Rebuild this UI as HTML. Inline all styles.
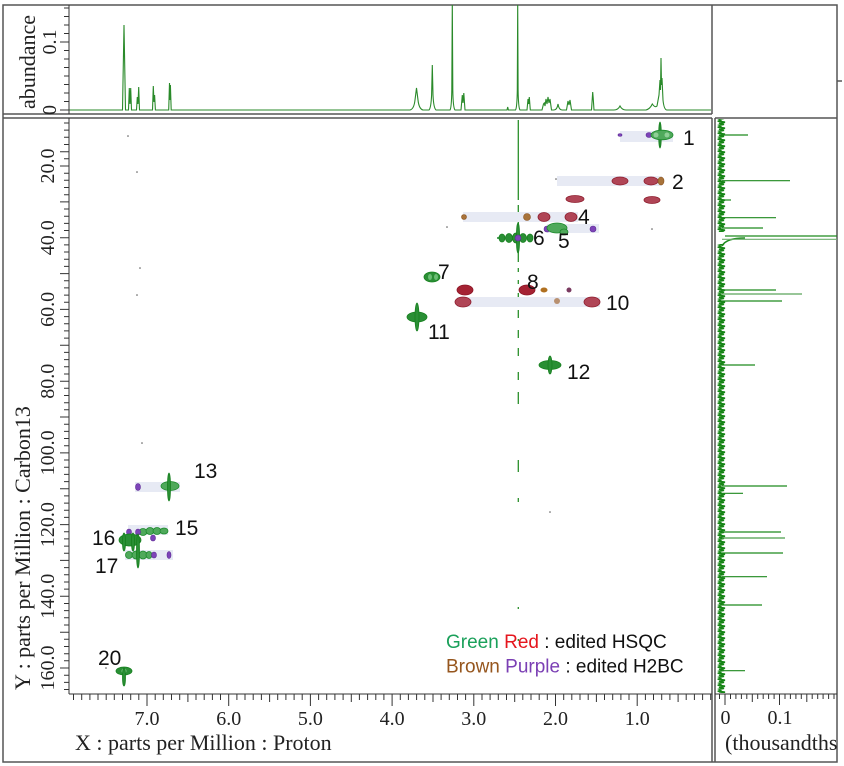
<!DOCTYPE html>
<html><head><meta charset="utf-8"><style>
html,body{margin:0;padding:0;background:#fff;}
svg{display:block;}
.ax{font-family:"Liberation Serif",serif;fill:#222;}
.lb{font-family:"Liberation Sans",sans-serif;fill:#111;font-size:21px;}
.g{fill:#4fa95b;stroke:#1d8a2c;stroke-width:0.8}
.gd{fill:#2a8f35;stroke:#17801f;stroke-width:0.8}
.r{fill:#b04556;stroke:#8e1e2e;stroke-width:0.8}
.rd{fill:#a52233;stroke:#8a1424;stroke-width:0.8}
.b{fill:#a8733a;stroke:#8a5320;stroke-width:0.6}
.p{fill:#7d44b8;stroke:#5e2a96;stroke-width:0.6}
.band{fill:#e7eaf4}
</style></head><body>
<svg width="844" height="766" viewBox="0 0 844 766" xmlns="http://www.w3.org/2000/svg">
<defs>
<pattern id="noise" x="717.5" y="0" width="9" height="6" patternUnits="userSpaceOnUse">
<polyline points="4,0 0.8,1.2 7.5,2.2 1.5,3.3 6.5,4.3 2,5.2 4,6" fill="none" stroke="#168516" stroke-width="1.6"/>
</pattern>
<clipPath id="rc"><rect x="715" y="118" width="122" height="644"/></clipPath>
<clipPath id="tc"><rect x="69" y="5" width="643" height="109"/></clipPath>
</defs>
<rect width="844" height="766" fill="#fff"/>

<!-- frames -->
<g stroke="#555" stroke-width="1.5" fill="none">
<rect x="3" y="5" width="834" height="757"/>
<line x1="3" y1="114" x2="712" y2="114"/>
<line x1="712" y1="5" x2="712" y2="114"/>
<line x1="3" y1="118" x2="712" y2="118"/>
<line x1="712" y1="118" x2="712" y2="762"/>
<line x1="715" y1="118" x2="715" y2="762"/>
<line x1="715" y1="118" x2="837" y2="118"/>
<line x1="837" y1="81" x2="842" y2="81"/>
</g>

<!-- top spectrum -->
<g clip-path="url(#tc)">
<path fill="none" stroke="#2a8a2a" stroke-width="1.1" d="M69,110 L122.5,110 L124,25 L125.5,110 L128.5,110 L129.3,88 L130,104 L130.7,88 L131.5,110 L136.5,110 L137.3,97 L138,104 L138.7,87 L139.5,110 L152.5,110 L153.3,86 L154,102 L154.6,95 L155.4,110 L168.7,110 L169.5,83 L170,100 L170.4,85 L171.2,110 L410,110 Q414,109 415,100 L416.5,88 L418,100 Q419,109 423,110 L429,110 Q431,108 431.6,95 L432.3,65 L433,95 Q433.6,108 436,110 L450,110 Q451.5,108 451.8,90 L452.3,2 L452.8,90 Q453.1,108 455,110 L461,110 L462.3,95 L463,103 L463.8,93 L465,110 L507,110 L507.7,107 L508.4,110 L515.5,110 Q517,108 517.3,90 L517.7,2 L518.1,90 Q518.4,108 520,110 L527,110 L528,99 L528.7,104 L529.3,97 L530.3,110 L542,110 L543.5,104 L544.3,103 L545,106 L546,99 L547,104 L548,97 L549,103 L550,99 L551.5,110 L554,110 Q557,110 558,104 Q559,110 562,110 L566.5,110 L568,101 L569,105 L570,100 L571.5,110 L591.5,110 L592.3,98 L592.7,92 L593.2,98 L594,110 L614,110 Q618,110 620,106 Q622,110 626,110 L646,110 Q650,109 652.3,104 Q655,108 657,106 L659,95 L660,80 L660.5,90 L661,58 L661.5,85 L662,78 L663,100 Q664,110 667,110 L711,110"/>
</g>
<!-- top y axis -->
<g stroke="#333" stroke-width="1">
<line x1="69" y1="5" x2="69" y2="114"/>
<line x1="60" y1="110" x2="69" y2="110"/>
<line x1="60" y1="42" x2="69" y2="42"/>
<line x1="64" y1="101.5" x2="69" y2="101.5"/><line x1="64" y1="93" x2="69" y2="93"/><line x1="64" y1="84.5" x2="69" y2="84.5"/><line x1="64" y1="76" x2="69" y2="76"/><line x1="64" y1="67.5" x2="69" y2="67.5"/><line x1="64" y1="59" x2="69" y2="59"/><line x1="64" y1="50.5" x2="69" y2="50.5"/><line x1="64" y1="33.5" x2="69" y2="33.5"/><line x1="64" y1="25" x2="69" y2="25"/><line x1="64" y1="16.5" x2="69" y2="16.5"/><line x1="64" y1="8" x2="69" y2="8"/>
</g>
<text class="ax" font-size="20" text-anchor="middle" transform="translate(56,110) rotate(-90)">0</text>
<text class="ax" font-size="20" text-anchor="middle" transform="translate(56,42) rotate(-90)">0.1</text>
<text class="ax" font-size="22" text-anchor="middle" transform="translate(35,62) rotate(-90)">abundance</text>

<!-- main axes -->
<g stroke="#333" stroke-width="1">
<line x1="69" y1="118" x2="69" y2="694"/>
<line x1="69" y1="694" x2="712" y2="694"/>
</g>

<!-- x tick labels -->
<g class="ax" font-size="20" text-anchor="middle">
<text x="147" y="725">7.0</text>
<text x="228.7" y="725">6.0</text>
<text x="310.4" y="725">5.0</text>
<text x="392.1" y="725">4.0</text>
<text x="473.8" y="725">3.0</text>
<text x="555.5" y="725">2.0</text>
<text x="637.2" y="725">1.0</text>
<text x="725.5" y="724">0</text>
<text x="780" y="724">0.1</text>
</g>
<text class="ax" font-size="22" x="75" y="750">X : parts per Million : Proton</text>
<text class="ax" font-size="22" x="725" y="750" clip-path="url(#rc)">(thousandths</text>

<!-- y tick labels -->
<g class="ax" font-size="20" text-anchor="middle">
<text transform="translate(54,166) rotate(-90)">20.0</text>
<text transform="translate(54,237.7) rotate(-90)">40.0</text>
<text transform="translate(54,309.4) rotate(-90)">60.0</text>
<text transform="translate(54,381.2) rotate(-90)">80.0</text>
<text transform="translate(54,452.9) rotate(-90)">100.0</text>
<text transform="translate(54,524.6) rotate(-90)">120.0</text>
<text transform="translate(54,596.3) rotate(-90)">140.0</text>
<text transform="translate(54,668) rotate(-90)">160.0</text>
</g>
<text class="ax" font-size="22" transform="translate(30,690) rotate(-90)">Y : parts per Million : Carbon13</text>

<!-- right panel trace -->
<g clip-path="url(#rc)">
<rect x="717.5" y="119" width="9" height="113" fill="url(#noise)"/>
<rect x="717.5" y="244" width="9" height="449" fill="url(#noise)"/>
<path d="M745,238 Q726,238 722,246" fill="none" stroke="#1d8a1d" stroke-width="1.6"/>
<g stroke="#1f8a1f" stroke-width="1.2">
<line x1="722" y1="135" x2="748" y2="135"/>
<line x1="722" y1="180.7" x2="790" y2="180.7"/>
<line x1="722" y1="200" x2="731" y2="200"/>
<line x1="722" y1="217.7" x2="776" y2="217.7"/>
<line x1="722" y1="228" x2="763" y2="228"/>
<line x1="725" y1="236" x2="837" y2="236"/>
<line x1="722" y1="239.3" x2="837" y2="239.3" stroke="#6fae6f"/>
<line x1="722" y1="290" x2="776" y2="290"/>
<line x1="722" y1="294" x2="802" y2="294" stroke="#5aa55a"/>
<line x1="722" y1="301" x2="782" y2="301"/>
<line x1="722" y1="365" x2="755" y2="365"/>
<line x1="722" y1="486" x2="787" y2="486"/>
<line x1="722" y1="493.3" x2="743" y2="493.3"/>
<line x1="722" y1="532" x2="781" y2="532"/>
<line x1="722" y1="538" x2="785" y2="538" stroke="#4a9e4a"/>
<line x1="722" y1="553" x2="783" y2="553"/>
<line x1="722" y1="576.7" x2="767" y2="576.7"/>
<line x1="722" y1="605" x2="762" y2="605"/>
<line x1="722" y1="670.7" x2="745" y2="670.7"/>
</g>
</g>
<line x1="715" y1="694" x2="837" y2="694" stroke="#333" stroke-width="1"/>

<!-- DMSO streak -->
<g stroke="#2a8f2a" stroke-width="1.3" fill="none">
<line x1="518.3" y1="120" x2="518.3" y2="200"/>
<line x1="518.3" y1="205" x2="518.3" y2="262"/>
<line x1="518.3" y1="268" x2="518.3" y2="272"/>
<line x1="518.3" y1="280" x2="518.3" y2="284"/>
<line x1="518.3" y1="293" x2="518.3" y2="300"/>
<line x1="518.3" y1="310" x2="518.3" y2="318"/>
<line x1="518.3" y1="330" x2="518.3" y2="338"/>
<line x1="518.3" y1="348" x2="518.3" y2="356"/>
<line x1="518.3" y1="372" x2="518.3" y2="380"/>
<line x1="518.3" y1="392" x2="518.3" y2="404"/>
<line x1="518.3" y1="460" x2="518.3" y2="472"/>
<line x1="518.3" y1="498" x2="518.3" y2="502"/>
<line x1="518.3" y1="607" x2="518.3" y2="609"/>
<line x1="518.3" y1="639" x2="518.3" y2="641"/>
</g>
<!-- scattered dots -->
<g fill="#555">
<circle cx="128" cy="136" r="0.8"/><circle cx="137" cy="172" r="0.8"/><circle cx="140" cy="268" r="0.8"/><circle cx="137" cy="295" r="0.8"/><circle cx="142" cy="443" r="0.8"/><circle cx="550" cy="512" r="0.8"/><circle cx="447" cy="227" r="0.8"/><circle cx="652" cy="229" r="0.8"/><circle cx="556" cy="179" r="0.8"/><circle cx="106" cy="668" r="0.8"/>
</g>

<!-- bands -->
<rect class="band" x="620" y="131" width="53" height="11"/>
<rect class="band" x="557" y="176" width="105" height="10"/>
<rect class="band" x="463" y="212" width="115" height="10"/>
<rect class="band" x="547" y="224" width="52" height="9"/>
<rect class="band" x="457" y="297" width="143" height="10"/>
<rect class="band" x="135" y="482" width="45" height="10"/>
<rect class="band" x="128" y="525" width="40" height="10"/>
<rect class="band" x="125" y="550" width="48" height="10"/>

<!-- peak 1 -->
<ellipse class="p" cx="620" cy="135" rx="2" ry="1.3"/>
<ellipse class="p" cx="649" cy="135" rx="3" ry="2.5"/>
<ellipse class="gd" cx="660" cy="135" rx="1.3" ry="13"/>
<ellipse class="g" cx="662" cy="135" rx="11" ry="4.8"/>
<ellipse cx="656" cy="135" rx="2.5" ry="2.5" fill="#8fcf96"/><ellipse cx="667" cy="135" rx="2.5" ry="2.5" fill="#8fcf96"/>
<!-- peak 2 -->
<ellipse class="r" cx="620" cy="181" rx="8" ry="4"/>
<ellipse class="r" cx="651" cy="181" rx="7" ry="4"/>
<ellipse class="b" cx="661" cy="181" rx="3" ry="4" fill="#a8641e"/>
<ellipse class="r" cx="575" cy="199" rx="9" ry="3.5"/>
<ellipse class="r" cx="652" cy="200" rx="8" ry="3.5"/>
<!-- peak 4 -->
<ellipse class="b" cx="464" cy="217" rx="2.5" ry="2.5" fill="#b08a60"/>
<ellipse class="b" cx="527" cy="217" rx="3.5" ry="3.5" fill="#b08a50"/>
<ellipse class="r" cx="544" cy="217" rx="6" ry="4.5"/>
<ellipse class="r" cx="571" cy="217" rx="6" ry="4.5"/>
<!-- peak 5 -->
<ellipse class="p" cx="547" cy="229" rx="3" ry="3"/>
<ellipse class="g" cx="557" cy="228" rx="10" ry="5"/>
<ellipse class="g" cx="564" cy="232" rx="4" ry="3"/>
<ellipse class="p" cx="593" cy="229" rx="3" ry="3"/>
<!-- peak 6 -->
<g class="gd">
<ellipse cx="502" cy="238" rx="3" ry="4"/><ellipse cx="509" cy="238" rx="3.5" ry="4.5"/><ellipse cx="516" cy="238" rx="3.5" ry="5"/><ellipse cx="523" cy="238" rx="3.5" ry="4.5"/><ellipse cx="530" cy="238" rx="3" ry="4"/>
<ellipse cx="518" cy="238" rx="1.6" ry="15"/>
</g>
<ellipse class="p" cx="518" cy="238" rx="3" ry="3"/>
<circle cx="498" cy="238" r="1" fill="#1d8a2c"/><circle cx="536" cy="238" r="1" fill="#1d8a2c"/>
<!-- peak 7 -->
<ellipse class="gd" cx="432" cy="277" rx="8" ry="5"/>
<ellipse cx="430" cy="277" rx="2" ry="3" fill="#6bbf74"/><ellipse cx="436" cy="277" rx="2" ry="3" fill="#6bbf74"/>
<!-- peak 8 row -->
<ellipse class="rd" cx="465" cy="290" rx="8" ry="5"/>
<ellipse class="rd" cx="527" cy="290" rx="8" ry="5"/>
<ellipse cx="544" cy="290" rx="3.5" ry="2.5" fill="#b07020"/>
<ellipse cx="569" cy="290" rx="2.5" ry="2.5" fill="#7a3a60"/>
<!-- peak 10 row -->
<ellipse class="r" cx="463" cy="302" rx="8" ry="5"/>
<ellipse cx="557" cy="301" rx="3" ry="3" fill="#b89070"/>
<ellipse class="r" cx="592" cy="302" rx="8" ry="5"/>
<!-- peak 11 -->
<ellipse class="gd" cx="417" cy="317" rx="10" ry="5"/>
<ellipse class="gd" cx="417" cy="317" rx="2" ry="14"/>
<!-- peak 12 -->
<ellipse class="gd" cx="550" cy="365" rx="11" ry="4.5"/>
<ellipse class="gd" cx="550" cy="365" rx="2" ry="9"/>
<!-- peak 13 -->
<ellipse class="p" cx="138" cy="487" rx="2.5" ry="3.5"/>
<ellipse class="g" cx="170" cy="486" rx="9" ry="4.5"/>
<ellipse class="gd" cx="169" cy="487" rx="1.5" ry="14"/>
<!-- peak 15 -->
<g class="g">
<ellipse cx="143" cy="532" rx="4" ry="3.5"/><ellipse cx="150" cy="531" rx="4" ry="3.5"/><ellipse cx="157" cy="531" rx="4" ry="3.5"/><ellipse cx="164" cy="531" rx="4" ry="3"/>
</g>
<ellipse class="p" cx="129" cy="532" rx="2.5" ry="3"/>
<ellipse class="p" cx="138" cy="532" rx="2.5" ry="3"/>
<ellipse class="p" cx="153" cy="538" rx="2.5" ry="3"/>
<!-- peak 16 -->
<ellipse class="gd" cx="130" cy="540" rx="11" ry="6"/>
<ellipse class="gd" cx="124" cy="542" rx="1.5" ry="9"/>
<ellipse class="gd" cx="133" cy="542" rx="1.5" ry="9"/>
<!-- peak 17 -->
<g class="g">
<ellipse cx="129" cy="555" rx="3.5" ry="3.5"/><ellipse cx="136" cy="555" rx="4" ry="4"/><ellipse cx="143" cy="555" rx="4" ry="4"/><ellipse cx="149" cy="555" rx="3" ry="3.5"/>
</g>
<ellipse class="gd" cx="138" cy="551" rx="1.5" ry="17"/>
<ellipse class="p" cx="154" cy="555" rx="2.5" ry="3"/>
<ellipse class="p" cx="169" cy="555" rx="2" ry="3.5"/>
<!-- peak 20 -->
<ellipse class="gd" cx="124" cy="671" rx="8" ry="4"/>
<ellipse cx="124" cy="671" rx="2.5" ry="2.5" fill="#7cc585"/>
<ellipse class="gd" cx="124" cy="677" rx="1.5" ry="9"/>

<!-- peak labels -->
<g class="lb">
<text x="683" y="145">1</text>
<text x="672" y="189">2</text>
<text x="578" y="224">4</text>
<text x="558" y="248">5</text>
<text x="533" y="245">6</text>
<text x="438" y="279">7</text>
<text x="527" y="289">8</text>
<text x="606" y="310">10</text>
<text x="428" y="339">11</text>
<text x="567" y="379">12</text>
<text x="194" y="478">13</text>
<text x="175" y="535">15</text>
<text x="92" y="545">16</text>
<text x="95" y="573">17</text>
<text x="98" y="665">20</text>
</g>

<!-- legend -->
<g font-family="'Liberation Sans',sans-serif" font-size="19">
<text x="446" y="648"><tspan fill="#1aa05a">Green</tspan> <tspan fill="#e5161e">Red</tspan><tspan fill="#111"> : edited HSQC</tspan></text>
<text x="446" y="672.5"><tspan fill="#96561e">Brown</tspan> <tspan fill="#7b3fb4">Purple</tspan><tspan fill="#111"> : edited H2BC</tspan></text>
</g>

<!-- ticks -->
<g stroke="#333" stroke-width="1">
<path d="M73.5,694v6M81.7,694v6M89.9,694v6M98,694v6M106.2,694v6M114.3,694v6M122.5,694v6M130.7,694v6M138.8,694v6M147,694v12M155.2,694v6M163.3,694v6M171.5,694v6M179.7,694v6M187.9,694v8M196,694v6M204.2,694v6M212.4,694v6M220.5,694v6M228.7,694v12M236.9,694v6M245,694v6M253.2,694v6M261.4,694v6M269.6,694v8M277.7,694v6M285.9,694v6M294.1,694v6M302.2,694v6M310.4,694v12M318.6,694v6M326.7,694v6M334.9,694v6M343.1,694v6M351.3,694v8M359.4,694v6M367.6,694v6M375.8,694v6M383.9,694v6M392.1,694v12M400.3,694v6M408.4,694v6M416.6,694v6M424.8,694v6M433,694v8M441.1,694v6M449.3,694v6M457.5,694v6M465.6,694v6M473.8,694v12M482,694v6M490.1,694v6M498.3,694v6M506.5,694v6M514.7,694v8M522.8,694v6M531,694v6M539.2,694v6M547.3,694v6M555.5,694v12M563.7,694v6M571.8,694v6M580,694v6M588.2,694v6M596.4,694v8M604.5,694v6M612.7,694v6M620.9,694v6M629,694v6M637.2,694v12M645.4,694v6M653.5,694v6M661.7,694v6M669.9,694v6M678.1,694v8M686.2,694v6M694.4,694v6M702.6,694v6M710.7,694v6"/>
<path d="M69,123h-5M69,130.1h-5M69,137.3h-5M69,144.5h-5M69,151.7h-9M69,158.8h-5M69,166h-9M69,173.2h-5M69,180.3h-5M69,187.5h-5M69,194.7h-5M69,201.9h-9M69,209h-5M69,216.2h-5M69,223.4h-5M69,230.5h-5M69,237.7h-9M69,244.9h-5M69,252h-5M69,259.2h-5M69,266.4h-5M69,273.6h-9M69,280.7h-5M69,287.9h-5M69,295.1h-5M69,302.2h-5M69,309.4h-9M69,316.6h-5M69,323.8h-5M69,330.9h-5M69,338.1h-5M69,345.3h-9M69,352.4h-5M69,359.6h-5M69,366.8h-5M69,374h-5M69,381.2h-9M69,388.3h-5M69,395.5h-5M69,402.7h-5M69,409.8h-5M69,417h-9M69,424.2h-5M69,431.4h-5M69,438.5h-5M69,445.7h-5M69,452.9h-9M69,460h-5M69,467.2h-5M69,474.4h-5M69,481.6h-5M69,488.7h-9M69,495.9h-5M69,503.1h-5M69,510.2h-5M69,517.4h-5M69,524.6h-9M69,531.8h-5M69,538.9h-5M69,546.1h-5M69,553.3h-5M69,560.4h-9M69,567.6h-5M69,574.8h-5M69,582h-5M69,589.1h-5M69,596.3h-9M69,603.5h-5M69,610.6h-5M69,617.8h-5M69,625h-5M69,632.2h-9M69,639.3h-5M69,646.5h-5M69,653.7h-5M69,660.8h-5M69,668h-9M69,675.2h-5M69,682.4h-5M69,689.5h-5"/>
<path d="M719.5,694v5M725,694v11M730.5,694v5M735.9,694v5M741.4,694v5M746.8,694v5M752.3,694v8M757.7,694v5M763.2,694v5M768.6,694v5M774.1,694v5M779.5,694v11M785,694v5M790.4,694v5M795.9,694v5M801.3,694v5M806.8,694v8M812.2,694v5M817.7,694v5M823.1,694v5M828.6,694v5M834,694v5"/>
</g>
</svg>
</body></html>
